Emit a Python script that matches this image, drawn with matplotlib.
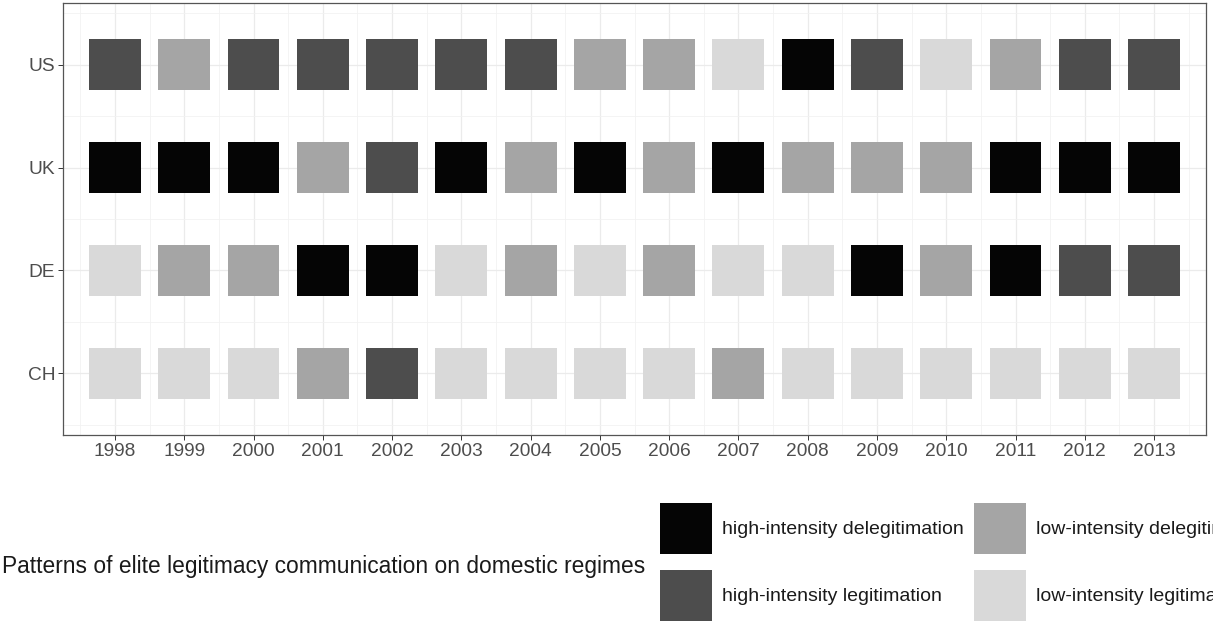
import matplotlib
matplotlib.use("Agg")
import matplotlib.pyplot as plt
from matplotlib.patches import Patch

plt.rcParams['font.family'] = ['Liberation Sans', 'DejaVu Sans']

# data
years = list(range(1998, 2014))
countries = ['CH', 'DE', 'UK', 'US']   # bottom to top

# HD = high-intensity delegitimation, HL = high-intensity legitimation
# LD = low-intensity delegitimation,  LL = low-intensity legitimation
patterns = {
    'US': ['HL', 'LD', 'HL', 'HL', 'HL', 'HL', 'HL', 'LD', 'LD', 'LL', 'HD', 'HL', 'LL', 'LD', 'HL', 'HL'],
    'UK': ['HD', 'HD', 'HD', 'LD', 'HL', 'HD', 'LD', 'HD', 'LD', 'HD', 'LD', 'LD', 'LD', 'HD', 'HD', 'HD'],
    'DE': ['LL', 'LD', 'LD', 'HD', 'HD', 'LL', 'LD', 'LL', 'LD', 'LL', 'LL', 'HD', 'LD', 'HD', 'HL', 'HL'],
    'CH': ['LL', 'LL', 'LL', 'LD', 'HL', 'LL', 'LL', 'LL', 'LL', 'LD', 'LL', 'LL', 'LL', 'LL', 'LL', 'LL'],
}

legend_keys = ['HD', 'HL', 'LD', 'LL']
legend_labels = ['high-intensity delegitimation', 'high-intensity legitimation',
                 'low-intensity delegitimation', 'low-intensity legitimation']
colors = {'HD': '#050505', 'HL': '#4d4d4d', 'LD': '#a5a5a5', 'LL': '#d9d9d9'}

W, H = 1213, 622
fig = plt.figure(figsize=(W / 100, H / 100), dpi=100)
ax = fig.add_axes([63 / W, 1 - 435 / H, (1206 - 63) / W, (435 - 3) / H])

# tiles
for i, c in enumerate(countries):
    ax.bar(years, 0.5, bottom=i + 1 - 0.25, width=0.75,
           color=[colors[p] for p in patterns[c]], linewidth=0, zorder=3)

ax.set_xlim(1997.25, 2013.75)
ax.set_ylim(0.4, 4.6)
ax.set_xticks(years)
ax.set_xticklabels([str(y) for y in years])
ax.set_yticks(range(1, len(countries) + 1))
ax.set_yticklabels(countries)
ax.set_xticks([y + 0.5 for y in years[:-1]] + [1997.5, 2013.5], minor=True)
ax.set_yticks([0.5, 1.5, 2.5, 3.5, 4.5], minor=True)

ax.grid(True, which='major', color='#ebebeb', linewidth=0.9, zorder=0)
ax.grid(True, which='minor', color='#f2f2f2', linewidth=0.6, zorder=0)
ax.set_axisbelow(True)
ax.tick_params(which='major', length=3.5, width=0.7, color='#333333',
               labelsize=13.8, labelcolor='#4d4d4d', pad=2)
ax.tick_params(which='minor', length=0)
for s in ax.spines.values():
    s.set_color('#555555')
    s.set_linewidth(0.9)

# legend
handles = [Patch(facecolor=colors[k], edgecolor='none') for k in legend_keys]
fig.legend(handles, legend_labels, ncol=2, loc='upper left',
           bbox_to_anchor=(660 / W, 1 - 503 / H), frameon=False,
           fontsize=14, borderpad=0, borderaxespad=0,
           handlelength=2.67, handleheight=3.66, handletextpad=0.5,
           labelspacing=0.82, columnspacing=0.57, labelcolor='#1a1a1a')
fig.text(2 / W, 1 - 573 / H,
         'Patterns of elite legitimacy communication on domestic regimes',
         fontsize=16.4, color='#1a1a1a', va='baseline', ha='left')

fig.savefig('out.png', dpi=100)
